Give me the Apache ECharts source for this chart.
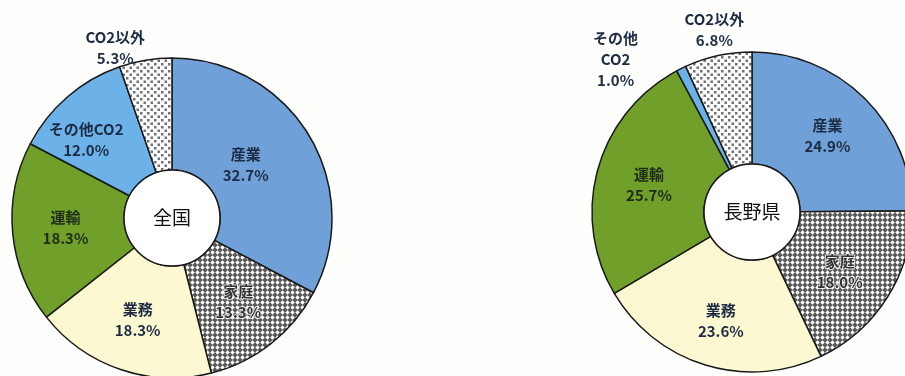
<!DOCTYPE html>
<html>
<head>
<meta charset="utf-8">
<script src="https://cdn.jsdelivr.net/npm/echarts@6/dist/echarts.min.js"></script>
<style>
  html, body { margin: 0; padding: 0; background: #fefefc; }
  #chart { width: 905px; height: 376px; }
</style>
</head>
<body>
<div id="chart"></div>
<script>
// 部門別 CO2 排出割合
const categories = ['産業', '家庭', '業務', '運輸', 'その他CO2', 'CO2以外']
const zenkokuValues = [32.7, 13.3, 18.3, 18.3, 12.0, 5.3]
const naganoValues = [24.9, 18.0, 23.6, 25.7, 1.0, 6.8]
const zenkokuLabels = ['産業', '家庭', '業務', '運輸', 'その他CO2', 'CO2以外']
const naganoLabels = ['産業', '家庭', '業務', '運輸', 'その他\nCO2', 'CO2以外']
const centerNames = ['全国', '長野県']

// hatch patterns
function makePattern(size, bg, draw) {
  const c = document.createElement('canvas')
  c.width = size
  c.height = size
  const ctx = c.getContext('2d')
  ctx.fillStyle = bg
  ctx.fillRect(0, 0, size, size)
  draw(ctx)
  return { image: c, repeat: 'repeat' }
}

// 家庭: dark grid with white diamonds
const crossPattern = makePattern(5, '#5a5a5a', ctx => {
  ctx.fillStyle = '#ffffff'
  ctx.beginPath()
  ctx.moveTo(2.5, 0.3)
  ctx.lineTo(4.7, 2.5)
  ctx.lineTo(2.5, 4.7)
  ctx.lineTo(0.3, 2.5)
  ctx.closePath()
  ctx.fill()
})

// CO2以外: white with grey dots
const dotPattern = makePattern(7, '#fdfdfd', ctx => {
  ctx.fillStyle = '#727272'
  ctx.fillRect(0, 0, 2.5, 2.5)
  ctx.fillRect(3.5, 3.5, 2.5, 2.5)
})

const sliceColors = ['#6fa0d8', crossPattern, '#fcf9d2', '#70a02a', '#6cb2e8', dotPattern]
const textColors = ['#1d2c44', '#333333', '#1d2c44', '#1f2a18', '#1d2c44', '#1d2c44']

// label nudges (dx, dy) per slice
const labelShift = [
  [[-18, 2], [0, 0], [0, 0], [0, 0], [-16, 3], [-39, -65]],
  [[0, 0], [-3, 3], [0, 6], [0, 2], [-89, -57], [-15, -78]]
]

let myChart = echarts.init(document.getElementById('chart'))

function ringSeries(values, labels, center, idx) {
  return {
    type: 'pie',
    center: center,
    radius: [48, 160],
    startAngle: 90,
    clockwise: true,
    silent: true,
    animation: false,
    data: values.map((v, i) => ({
      value: v,
      name: categories[i],
      itemStyle: { color: sliceColors[i] },
      label: {
        color: textColors[i],
        textBorderColor: i === 1 ? 'rgba(255,255,255,0.75)' : 'transparent',
        textBorderWidth: i === 1 ? 2 : 0,
        formatter: () => labels[i] + '\n' + v.toFixed(1) + '%'
      }
    })),
    itemStyle: {
      borderColor: '#1a1a1a',
      borderWidth: 1.5
    },
    label: {
      show: true,
      position: 'inner',
      fontFamily: 'Noto Sans CJK JP',
      fontSize: 15,
      fontWeight: 'bold',
      lineHeight: 21,
      align: 'center'
    },
    labelLine: { show: false },
    labelLayout: function (params) {
      let s = labelShift[idx][params.dataIndex]
      return { dx: s[0], dy: s[1] }
    }
  }
}

function holeSeries(name, center) {
  return {
    type: 'pie',
    center: center,
    radius: [0, 48],
    silent: true,
    animation: false,
    data: [{ value: 1, name: name }],
    itemStyle: {
      color: '#ffffff',
      borderColor: '#1a1a1a',
      borderWidth: 1.5
    },
    label: {
      show: true,
      position: 'center',
      formatter: '{b}',
      fontFamily: 'Noto Sans CJK JP',
      fontSize: 19,
      fontWeight: 'normal',
      color: '#111'
    },
    labelLine: { show: false }
  }
}

myChart.setOption({
  backgroundColor: '#fefefc',
  series: [
    ringSeries(zenkokuValues, zenkokuLabels, [172, 218], 0),
    holeSeries(centerNames[0], [172, 218]),
    ringSeries(naganoValues, naganoLabels, [752, 212], 1),
    holeSeries(centerNames[1], [752, 212])
  ]
})
</script>
</body>
</html>
